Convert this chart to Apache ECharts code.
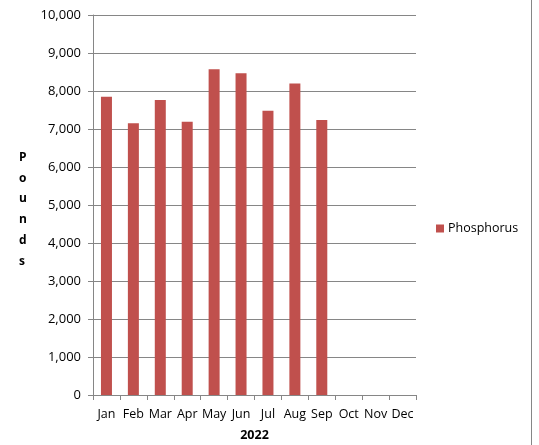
<!DOCTYPE html>
<html>
<head>
<meta charset="utf-8">
<script src="https://cdn.jsdelivr.net/npm/echarts@6/dist/echarts.min.js"></script>
<style>
  html, body { margin: 0; padding: 0; background: #fff; }
  #chart { width: 539px; height: 445px; }
</style>
</head>
<body>
<div id="chart"></div>
<script>
// data
const months = ['Jan', 'Feb', 'Mar', 'Apr', 'May', 'Jun', 'Jul', 'Aug', 'Sep', 'Oct', 'Nov', 'Dec'];
const phosphorus = [7850, 7150, 7760, 7190, 8570, 8470, 7480, 8200, 7240, null, null, null];
const yTicks = [0, 1000, 2000, 3000, 4000, 5000, 6000, 7000, 8000, 9000, 10000];

const font = '"Open Sans", "Liberation Sans", sans-serif';
const axisGray = '#868686';

const chart = echarts.init(document.getElementById('chart'));

chart.setOption({
  animation: false,
  textStyle: { fontFamily: font },
  grid: {
    left: 93,
    top: 15,
    width: 323,
    height: 380,
    outerBoundsMode: 'none',
    containLabel: false,
  },
  legend: {
    data: ['Phosphorus'],
    orient: 'vertical',
    left: 436,
    top: 222,
    padding: 0,
    itemWidth: 8,
    itemHeight: 8,
    itemGap: 5,
    icon: 'rect',
    textStyle: { fontSize: 12.5, color: '#000', fontFamily: font, padding: [0, 0, 0, -1] },
  },
  xAxis: {
    type: 'category',
    data: months,
    name: '2022',
    nameLocation: 'middle',
    nameGap: 34,
    nameTextStyle: { fontWeight: 'bold', fontSize: 12.5, color: '#000' },
    axisLine: { lineStyle: { color: axisGray } },
    axisTick: { show: true, length: 5, lineStyle: { color: axisGray } },
    axisLabel: { color: '#000', fontSize: 12.5, margin: 13, interval: 0 },
  },
  yAxis: {
    type: 'value',
    min: yTicks[0],
    max: yTicks[yTicks.length - 1],
    interval: 1000,
    axisLine: { show: true, lineStyle: { color: axisGray } },
    axisTick: { show: true, length: 5, lineStyle: { color: axisGray } },
    splitLine: { lineStyle: { color: axisGray } },
    axisLabel: {
      color: '#000',
      fontSize: 13,
      margin: 12,
      formatter: (v) => v.toLocaleString('en-US'),
    },
  },
  series: [
    {
      name: 'Phosphorus',
      type: 'bar',
      data: phosphorus,
      barWidth: 11,
      itemStyle: { color: '#C0504D' },
    },
  ],
  graphic: [
    {
      type: 'text',
      left: 19,
      top: 147,
      style: {
        text: 'P\no\nu\nn\nd\ns',
        font: 'bold 12px ' + font,
        lineHeight: 20.8,
        fill: '#000',
        align: 'center',
      },
    },
    {
      type: 'line',
      shape: { x1: 531.5, y1: 0, x2: 531.5, y2: 445 },
      style: { stroke: axisGray, lineWidth: 1 },
    },
  ],
});
</script>
</body>
</html>
